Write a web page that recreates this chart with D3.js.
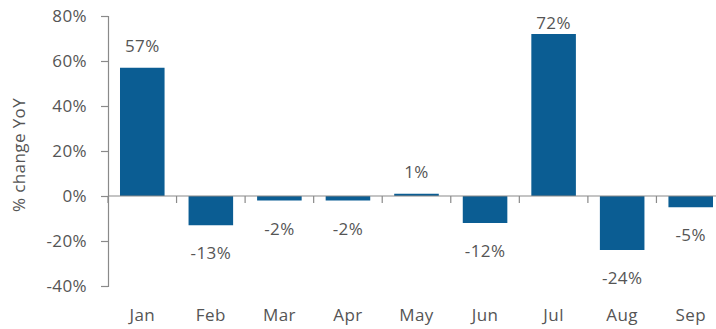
<!DOCTYPE html>
<html>
<head>
<meta charset="utf-8">
<script src="https://cdn.jsdelivr.net/npm/d3@7"></script>
<style>
  html, body { margin: 0; padding: 0; background: #fff; }
  svg text { font-family: "Open Sans", "DejaVu Sans", sans-serif; font-weight: 400; fill: #555555; }
</style>
</head>
<body>
<svg id="chart" width="716" height="329"></svg>
<script>
// Monthly year-over-year change, in percent
const months = ["Jan", "Feb", "Mar", "Apr", "May", "Jun", "Jul", "Aug", "Sep"];
const changes = [57, -13, -2, -2, 1, -12, 72, -24, -5];
const yTicks = [-40, -20, 0, 20, 40, 60, 80];
const yTitle = "% change YoY";

const svg = d3.select("#chart");
const barColor = "#0b5d93";
const axisColor = "#8a8a8a";

const x = d3.scaleBand().domain(months).range([108, 725]).paddingInner(0.35).paddingOuter(0.175);
const y = d3.scaleLinear().domain([-40, 80]).range([286, 16]);

// Bars
svg.append("g").selectAll("rect").data(months).join("rect")
  .attr("x", d => x(d))
  .attr("width", x.bandwidth())
  .attr("y", (d, i) => y(Math.max(0, changes[i])))
  .attr("height", (d, i) => Math.abs(y(changes[i]) - y(0)))
  .attr("fill", barColor);

// Y axis
const yAxis = svg.append("g").attr("transform", "translate(108,0)")
  .call(d3.axisLeft(y).tickValues(yTicks).tickSize(7).tickPadding(14).tickFormat(d => d + "%"));
yAxis.select(".domain").attr("stroke", axisColor).attr("stroke-width", 1.2);
yAxis.selectAll(".tick line").attr("stroke", axisColor).attr("stroke-width", 1.2);
yAxis.selectAll(".tick text").attr("font-size", 17).attr("letter-spacing", 0.4);

// Zero baseline with category separators
svg.append("line")
  .attr("x1", 108).attr("x2", 725)
  .attr("y1", y(0)).attr("y2", y(0))
  .attr("stroke", axisColor).attr("stroke-width", 1.2);
const step = x.step();
const bounds = d3.range(months.length + 1).map(i => x.range()[0] + i * step);
svg.append("g").selectAll("line").data(bounds).join("line")
  .attr("x1", d => d).attr("x2", d => d)
  .attr("y1", y(0)).attr("y2", y(0) + 7)
  .attr("stroke", axisColor).attr("stroke-width", 1.2);

// Month labels
svg.append("g").selectAll("text").data(months).join("text")
  .attr("x", d => x(d) + x.bandwidth() / 2)
  .attr("y", 321)
  .attr("text-anchor", "middle")
  .attr("font-size", 17)
  .attr("letter-spacing", 0.4)
  .text(d => d);

// Value labels: above positive bars (kept inside the plot top), below negative bars
svg.append("g").selectAll("text").data(months).join("text")
  .attr("x", d => x(d) + x.bandwidth() / 2)
  .attr("y", (d, i) => changes[i] >= 0
    ? Math.max(y(changes[i]) - 16, y(80) + 13)
    : y(changes[i]) + 34)
  .attr("text-anchor", "middle")
  .attr("font-size", 17)
  .attr("letter-spacing", 0.4)
  .text((d, i) => changes[i] + "%");

// Axis title
svg.append("text")
  .attr("transform", `translate(25,${(16 + 286) / 2 + 4}) rotate(-90)`)
  .attr("text-anchor", "middle")
  .attr("font-size", 17)
  .attr("letter-spacing", 0.4)
  .text(yTitle);
</script>
</body>
</html>
